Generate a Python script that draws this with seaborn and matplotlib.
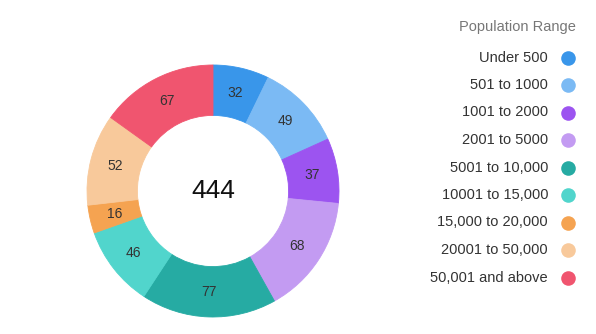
import matplotlib
matplotlib.use("Agg")
import matplotlib.pyplot as plt
import seaborn as sns

# Counts of places in each population band
categories = ["Under 500", "501 to 1000", "1001 to 2000", "2001 to 5000",
              "5001 to 10,000", "10001 to 15,000", "15,000 to 20,000",
              "20001 to 50,000", "50,001 and above"]
counts = [32, 49, 37, 68, 77, 46, 16, 52, 67]
legend_title = "Population Range"

colors = ["#3996ea", "#7bbaf4", "#9c54f0", "#c39bf2", "#26aba3",
          "#51d5cc", "#f5a351", "#f8c99b", "#f0556f"]

sns.set_theme(style="white")
plt.rcParams["font.family"] = ["Liberation Sans", "DejaVu Sans"]
palette = sns.color_palette(colors)

fig = plt.figure(figsize=(5.96, 3.34), dpi=100)
fig.patch.set_facecolor("white")

# Donut chart
ax = fig.add_axes([87 / 596, 17 / 334, 252 / 596, 252 / 334])
total = sum(counts)
wedges, _, autotexts = ax.pie(
    counts,
    colors=palette,
    startangle=90,
    counterclock=False,
    radius=1.0,
    autopct=lambda p: f"{round(p * total / 100):d}",
    pctdistance=0.8,
    wedgeprops=dict(width=0.4, linewidth=0.6, edgecolor="white"),
    textprops=dict(fontsize=10, color="#333333"),
)
for w, c in zip(wedges, palette):
    w.set_edgecolor(c)
ax.set_xlim(-1.0, 1.0)
ax.set_ylim(-1.0, 1.0)
ax.set_aspect("equal")
ax.text(0, 0, f"{total}", ha="center", va="center", fontsize=19, color="#111111")

# Legend on the right: labels right-aligned, dots after them
lax = fig.add_axes([0, 0, 1, 1], facecolor="none")
lax.set_xlim(0, 596)
lax.set_ylim(334, 0)
lax.axis("off")
lax.text(517, 27, legend_title, ha="center", va="center", fontsize=10.5, color="#777777")
for i, (label, col) in enumerate(zip(categories, palette)):
    y = 57.5 + 27.5 * i
    lax.text(548, y, label, ha="right", va="center", fontsize=10.5, color="#333333")
    lax.plot([568], [y], marker="o", markersize=10.5, color=col, markeredgewidth=0)

fig.savefig("out.png", dpi=100, facecolor="white")
